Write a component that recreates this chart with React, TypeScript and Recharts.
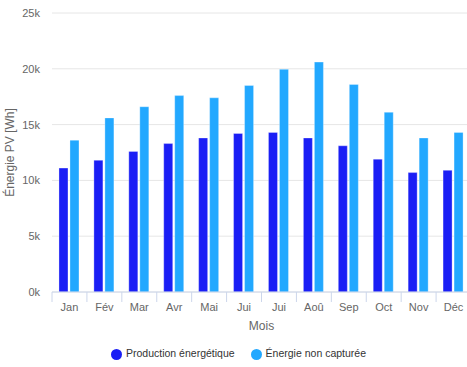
import { BarChart, Bar, XAxis, YAxis, CartesianGrid, Legend } from "recharts"

const months = ["Jan", "Fév", "Mar", "Avr", "Mai", "Jui", "Jui", "Aoû", "Sep", "Oct", "Nov", "Déc"]
const production = [11100, 11800, 12600, 13300, 13800, 14200, 14300, 13800, 13100, 11900, 10700, 10900]
const nonCapturee = [13600, 15600, 16600, 17600, 17400, 18500, 19950, 20600, 18600, 16100, 13800, 14300]
const yTicks = [0, 5000, 10000, 15000, 20000, 25000]

const data = months.map((m, i) => ({
  name: m,
  key: i,
  "Production énergétique": production[i],
  "Énergie non capturée": nonCapturee[i],
}))

const axisColor = "#ccd6eb"
const textColor = "#666666"

function MonthTick(props: any) {
  const { x, y, payload } = props
  const left = x - (payload.offset || 0)
  return (
    <g>
      <line x1={left} y1={y - 8} x2={left} y2={y + 2} stroke={axisColor} />
      <text x={x} y={y + 11} textAnchor="middle" fill={textColor} fontSize={11}>
        {months[payload.value]}
      </text>
    </g>
  )
}

export default function App() {
  return (
    <div style={{ position: "absolute", left: 0, top: 0, fontFamily: "'Liberation Sans', Arial, sans-serif" }}>
      <BarChart
        width={475}
        height={367}
        data={data}
        margin={{ top: 13, right: 4, left: 0, bottom: 35 }}
        barCategoryGap="20%"
        barGap={2}
      >
        <CartesianGrid vertical={false} stroke="#e6e6e6" />
        <XAxis
          dataKey="key"
          tickLine={false}
          axisLine={{ stroke: axisColor }}
          tick={<MonthTick />}
          interval={0}
          height={40}
          label={{ value: "Mois", position: "insideBottom", offset: 2, fill: textColor, fontSize: 12 }}
        />
        <YAxis
          width={52}
          domain={[0, 25000]}
          ticks={yTicks}
          tickFormatter={(v: number) => `${v / 1000}k`}
          axisLine={false}
          tickLine={false}
          tickSize={0}
          tickMargin={12}
          tick={{ fill: textColor, fontSize: 11 }}
          label={{
            value: "Énergie PV [Wh]",
            angle: -90,
            position: "insideLeft",
            offset: 10,
            fill: textColor,
            fontSize: 12,
            style: { textAnchor: "middle" },
          }}
        />
        <Legend
          layout="horizontal"
          verticalAlign="middle"
          align="center"
          iconType="circle"
          iconSize={11}
          wrapperStyle={{ top: 347, left: 6, width: 475, fontSize: 10.5 }}
          formatter={(v: string, _e: any, i: number) => (
            <span style={{ color: "#333", marginRight: i === 0 ? 6 : 0 }}>{v}</span>
          )}
        />
        <Bar
          dataKey="Production énergétique"
          fill="#1a1ef5"
          stroke="#ffffff"
          strokeOpacity={0.3}
          isAnimationActive={false}
        />
        <Bar
          dataKey="Énergie non capturée"
          fill="#22a8ff"
          stroke="#ffffff"
          strokeOpacity={0.3}
          isAnimationActive={false}
        />
      </BarChart>
    </div>
  )
}
